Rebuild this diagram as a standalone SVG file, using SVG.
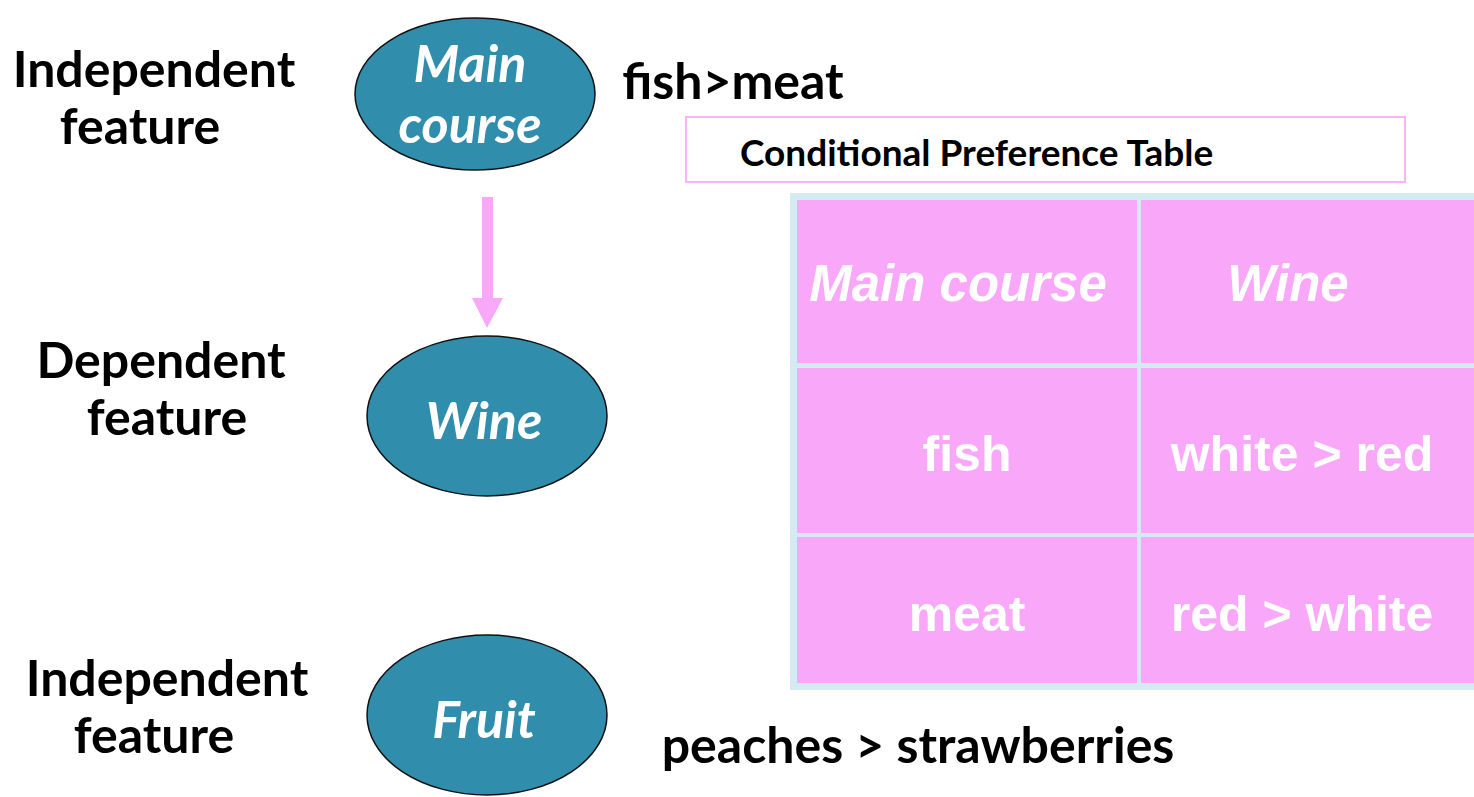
<svg xmlns="http://www.w3.org/2000/svg" width="1474" height="797" viewBox="0 0 1474 797">
<style>
.lbl{font-family:Lato,"Open Sans","Liberation Sans",sans-serif;font-weight:bold;font-size:50px;fill:#000;text-anchor:middle}
.node ellipse{fill:#318dac;stroke:#111;stroke-width:1.5}
.ntxt{font-family:Lato,"Open Sans","Liberation Sans",sans-serif;font-weight:bold;font-style:italic;font-size:52px;fill:#fff;text-anchor:middle}
.cell{fill:#f9a8f9}
.ttxt{font-family:"Liberation Sans",Arial,sans-serif;font-weight:bold;font-size:50px;fill:#fff;text-anchor:middle}
.it{font-style:italic;font-size:51px}
</style>
<rect width="1474" height="797" fill="#fff"/>
<g id="labels">
<text class="lbl" x="154" y="87">Independent</text>
<text class="lbl" x="140" y="144">feature</text>
<text class="lbl" x="161" y="378">Dependent</text>
<text class="lbl" x="167" y="435">feature</text>
<text class="lbl" x="167" y="696">Independent</text>
<text class="lbl" x="154" y="753">feature</text>
<text class="lbl" x="733" y="99">fish&gt;meat</text>
<text class="lbl" x="918" y="763">peaches &gt; strawberries</text>
</g>
<g id="connectors">
<rect x="482" y="197" width="11" height="103" fill="#f9a8f9"/>
<polygon points="472,298 503,298 487,328" fill="#f9a8f9"/>
</g>
<g id="main-course" class="node">
<ellipse cx="475" cy="94" rx="120" ry="76"/>
<text class="ntxt" x="470" y="82">Main</text>
<text class="ntxt" x="470" y="143">course</text>
</g>
<g id="wine" class="node">
<ellipse cx="487" cy="416" rx="120" ry="80"/>
<text class="ntxt" x="484" y="439">Wine</text>
</g>
<g id="fruit" class="node">
<ellipse cx="487" cy="715" rx="120" ry="80"/>
<text class="ntxt" x="484" y="738">Fruit</text>
</g>
<g id="cpt-title">
<rect x="686" y="117" width="719" height="65" fill="#fff" stroke="#f8b4f6" stroke-width="2"/>
<text x="740" y="166" font-family="Lato,'Open Sans','Liberation Sans',sans-serif" font-weight="bold" font-size="37" fill="#000">Conditional Preference Table</text>
</g>
<g id="cpt-table">
<rect x="790" y="193" width="690" height="497" fill="#d5ebf3"/>
<rect class="cell" x="797" y="200" width="340" height="163"/>
<rect class="cell" x="1141" y="200" width="340" height="163"/>
<rect class="cell" x="797" y="368" width="340" height="165"/>
<rect class="cell" x="1141" y="368" width="340" height="165"/>
<rect class="cell" x="797" y="537" width="340" height="146"/>
<rect class="cell" x="1141" y="537" width="340" height="146"/>
<text class="ttxt it" x="958" y="301">Main course</text>
<text class="ttxt it" x="1288" y="301">Wine</text>
<text class="ttxt" x="967" y="471">fish</text>
<text class="ttxt" x="1302" y="471">white &gt; red</text>
<text class="ttxt" x="967" y="631">meat</text>
<text class="ttxt" x="1302" y="631">red &gt; white</text>
</g>
</svg>
